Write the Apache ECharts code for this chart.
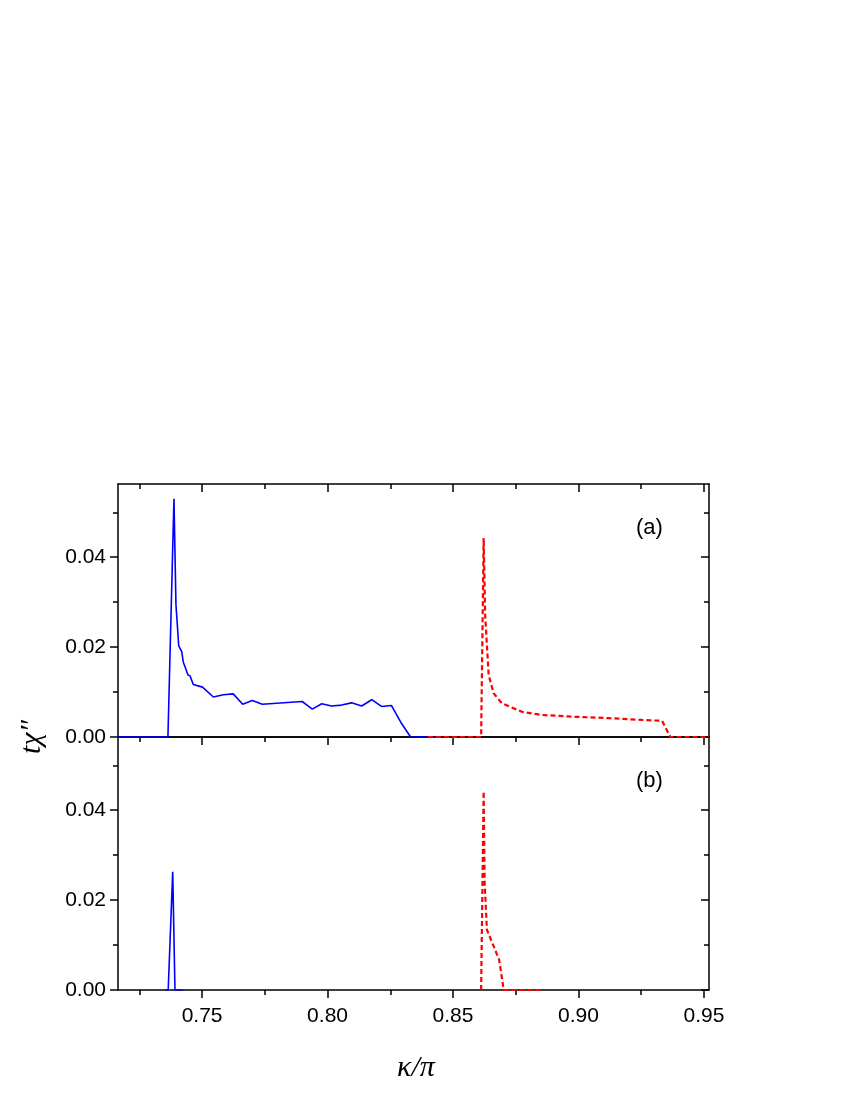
<!DOCTYPE html>
<html><head><meta charset="utf-8">
<script src="https://cdn.jsdelivr.net/npm/echarts@6/dist/echarts.min.js"></script>
<style>html,body{margin:0;padding:0;background:#fff}#c{width:850px;height:1100px}</style>
</head><body><div id="c"></div>
<script>
const blueTopX=[0.7165,0.7364,0.7388,0.7396,0.7407,0.7419,0.7425,0.7444,0.7452,0.7465,0.7502,0.7545,0.7585,0.7624,0.7662,0.7700,0.7740,0.7899,0.7939,0.7977,0.8016,0.8056,0.8096,0.8136,0.8176,0.8215,0.8255,0.8295,0.8331,0.845];
const blueTopY=[0,0,0.053,0.0294,0.0203,0.019,0.0167,0.0138,0.0136,0.0117,0.0111,0.0089,0.0094,0.0096,0.0073,0.0081,0.0073,0.0079,0.0062,0.0074,0.0069,0.0071,0.0076,0.0069,0.0083,0.0068,0.007,0.003,0,0];
const redTopX=[0.840,0.8612,0.8622,0.8628,0.8642,0.8662,0.8695,0.8775,0.8854,0.8987,0.9120,0.9253,0.9333,0.9366,0.952];
const redTopY=[0,0,0.0443,0.0272,0.0138,0.0097,0.0075,0.0056,0.0049,0.0045,0.0042,0.0038,0.0036,0,0];
const blueBotX=[0.7352,0.7365,0.7383,0.7392,0.7424];
const blueBotY=[0,0,0.0263,0,0];
const redBotX=[0.8612,0.8622,0.8626,0.8635,0.8668,0.8684,0.8702,0.8848];
const redBotY=[0,0.0442,0.0238,0.0134,0.0089,0.0067,0,0];
const xMajor=[0.75,0.80,0.85,0.90,0.95];
const xMinor=[0.725,0.775,0.825,0.875,0.925];
const yMajor=[0,0.02,0.04];
const yMinor=[0.01,0.03,0.05];
const XMIN=0.7165,XMAX=0.952,YMAX=0.0563;

const font='Liberation Sans, Arial, sans-serif';
const grids=[{left:118,top:484,width:591,height:253},{left:118,top:737,width:591,height:253}];
const xAxis=[],yAxis=[];
function xa(g,pos,vals,len,inside,labels,line){
  xAxis.push({type:'value',gridIndex:g,position:pos,min:XMIN,max:XMAX,
    axisLine:{show:line,onZero:false,lineStyle:{color:'#000',width:1.5}},
    splitLine:{show:false},
    axisTick:{show:true,inside:inside,length:len,customValues:vals,lineStyle:{color:'#000',width:1.5}},
    axisLabel:{show:labels,customValues:labels?vals:[],color:'#000',fontSize:21,fontFamily:font,margin:16,formatter:v=>v.toFixed(2)}});
}
function ya(g,pos,vals,len,inside,labels,line){
  yAxis.push({type:'value',gridIndex:g,position:pos,min:0,max:YMAX,
    axisLine:{show:line,onZero:false,lineStyle:{color:'#000',width:1.5}},
    splitLine:{show:false},
    axisTick:{show:true,inside:inside,length:len,customValues:vals,lineStyle:{color:'#000',width:1.5}},
    axisLabel:{show:labels,customValues:labels?vals:[],color:'#000',fontSize:21,fontFamily:font,margin:12,formatter:v=>v.toFixed(2)}});
}
for(let g=0;g<2;g++){
  if(g===1){xa(g,'bottom',xMajor,8,false,true,true);xa(g,'bottom',xMinor,5,false,false,false);}
  else {xa(g,'bottom',[],0,false,false,true);}
  xa(g,'top',xMajor,8,true,false,true);xa(g,'top',xMinor,5,true,false,false);
  ya(g,'left',yMajor,8,false,true,true);ya(g,'left',yMinor,5,false,false,false);
  ya(g,'right',yMajor,8,true,false,true);ya(g,'right',yMinor,5,true,false,false);
}
const zip=(a,b)=>a.map((v,i)=>[v,b[i]]);
const series=[
 {type:'line',xAxisIndex:0,yAxisIndex:0,data:zip(blueTopX,blueTopY),showSymbol:false,lineStyle:{color:'#0000ff',width:1.6},z:3},
 {type:'line',xAxisIndex:0,yAxisIndex:0,data:zip(redTopX,redTopY),showSymbol:false,lineStyle:{color:'#ff0000',width:2.2,type:[5,3]},z:4},
 {type:'line',xAxisIndex:3,yAxisIndex:4,data:zip(blueBotX,blueBotY),showSymbol:false,lineStyle:{color:'#0000ff',width:1.6},z:3},
 {type:'line',xAxisIndex:3,yAxisIndex:4,data:zip(redBotX,redBotY),showSymbol:false,lineStyle:{color:'#ff0000',width:2.2,type:[5,3]},z:4}
];
const chart=echarts.init(document.getElementById('c'),null,{renderer:'canvas'});
chart.setOption({animation:false,backgroundColor:'#fff',grid:grids,xAxis,yAxis,series,
 graphic:[
  {type:'text',left:636,top:517,style:{text:'(a)',fontSize:22,fontFamily:font,fill:'#000'}},
  {type:'text',left:636,top:770,style:{text:'(b)',fontSize:22,fontFamily:font,fill:'#000'}},
  {type:'text',x:32,y:737,rotation:Math.PI/2,style:{text:'t\u03c7\u2033',fontSize:30,fontStyle:'italic',fontFamily:'Liberation Serif, Times New Roman, serif',fill:'#000',align:'center',verticalAlign:'middle'}},
  {type:'text',x:416,y:1068,style:{text:'\u03ba/\u03c0',fontSize:30,fontStyle:'italic',fontFamily:'Liberation Serif, Times New Roman, serif',fill:'#000',align:'center',verticalAlign:'middle'}}
 ]});
</script></body></html>
